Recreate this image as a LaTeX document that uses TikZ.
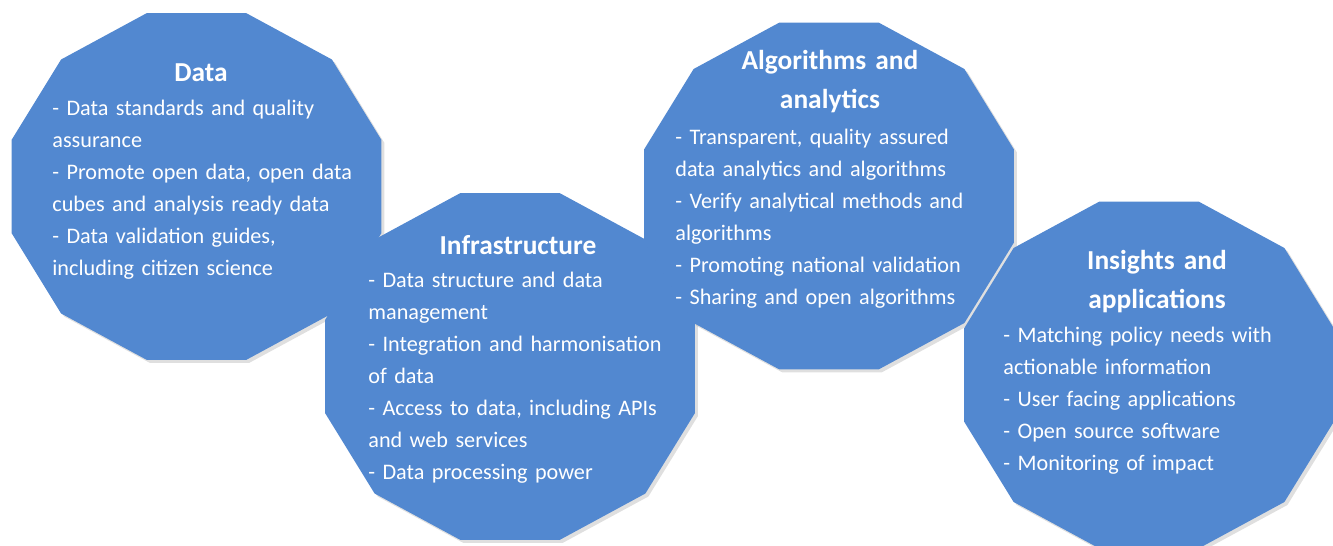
\documentclass[tikz,border=0pt]{standalone}
\usepackage{fontspec}
\setmainfont{Carlito}
\usetikzlibrary{shadows}
\definecolor{panelblue}{RGB}{82,136,208}
\tikzset{
	panel/.style={fill=panelblue, drop shadow={opacity=0.25, shadow xshift=1.5pt, shadow yshift=-1.5pt}},
	ttl/.style={text=white, font=\fontsize{13.7}{19.5}\selectfont\bfseries, align=center, text width=180pt, inner sep=0pt, anchor=base},
	bodytxt/.style={text=white, font=\fontsize{11.1}{16}\selectfont, align=left, text width=180pt, inner sep=0pt, anchor=base west}
}
\newcommand{\dodeca}[2]{\fill[panel, shift={(#1,#2)}] (15:191.5 and 179.6) \foreach \a in {45,75,...,345} {-- (\a:191.5 and 179.6)} -- cycle;}
\begin{document}
\begin{tikzpicture}[x=0.5pt, y=-0.5pt]
		\useasboundingbox (0,0) rectangle (1333,546);

		\dodeca{196.5}{186.5}
		\dodeca{510}{366.5}
		\dodeca{829}{196}
		\dodeca{1149}{375}

		\node[ttl] (dataT) at (201,81) {Data};
		\node[bodytxt] (dataB) at (52,115) {- Data standards and quality\\assurance\\- Promote open data, open data\\cubes and analysis ready data\\- Data validation guides,\\including citizen science};

		\node[ttl] (infraT) at (518,254) {Infrastructure};
		\node[bodytxt] (infraB) at (368,287) {- Data structure and data\\management\\- Integration and harmonisation\\of data\\- Access to data, including APIs\\and web services\\- Data processing power};

		\node[ttl] (algoT) at (830,69) {Algorithms and\\analytics};
		\node[bodytxt] (algoB) at (675,144) {- Transparent, quality assured\\data analytics and algorithms\\- Verify analytical methods and\\algorithms\\- Promoting national validation\\- Sharing and open algorithms};

		\node[ttl] (insT) at (1157,269) {Insights and\\applications};
		\node[bodytxt] (insB) at (1003,342) {- Matching policy needs with\\actionable information\\- User facing applications\\- Open source software\\- Monitoring of impact};
	\end{tikzpicture}
\end{document}
